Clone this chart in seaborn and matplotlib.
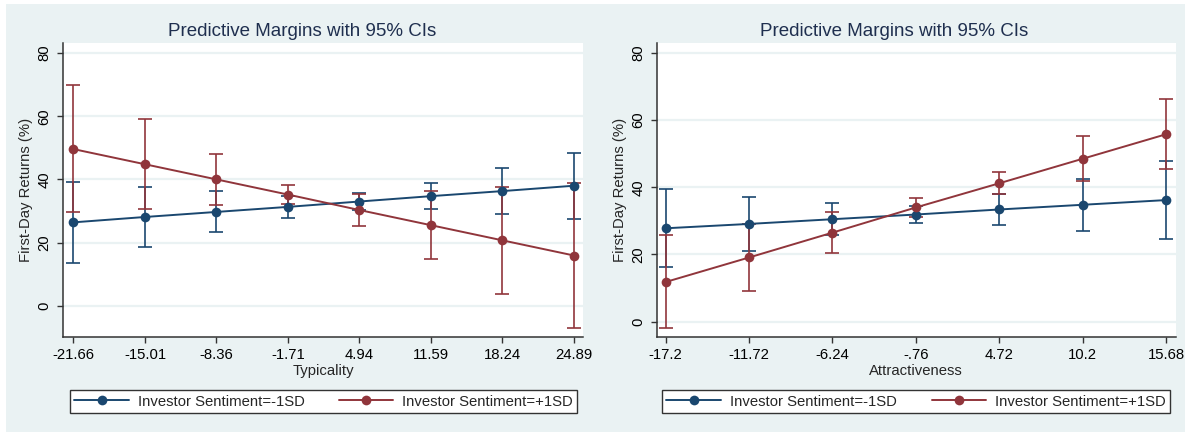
import numpy as np
import pandas as pd
import matplotlib
matplotlib.use("Agg")
import matplotlib.pyplot as plt
import seaborn as sns
from matplotlib.patches import Rectangle

# ---- data ----
typ_x = [-21.66, -15.01, -8.36, -1.71, 4.94, 11.59, 18.24, 24.89]
typ_ticks = ['-21.66', '-15.01', '-8.36', '-1.71', '4.94', '11.59', '18.24', '24.89']
typ_low_mean = [26.4, 28.1, 29.7, 31.3, 33.0, 34.7, 36.3, 38.0]
typ_low_lo = [13.6, 18.5, 23.2, 27.8, 30.4, 30.5, 29.1, 27.6]
typ_low_hi = [39.2, 37.6, 36.2, 34.8, 35.7, 38.9, 43.6, 48.3]
typ_high_mean = [49.6, 44.8, 40.0, 35.2, 30.3, 25.5, 20.7, 15.9]
typ_high_lo = [29.6, 30.7, 31.9, 32.1, 25.1, 14.7, 3.7, -7.2]
typ_high_hi = [69.8, 59.0, 48.1, 38.3, 35.5, 36.4, 37.7, 39.0]

att_x = [-17.2, -11.72, -6.24, -0.76, 4.72, 10.2, 15.68]
att_ticks = ['-17.2', '-11.72', '-6.24', '-.76', '4.72', '10.2', '15.68']
att_low_mean = [27.8, 29.1, 30.5, 31.9, 33.4, 34.8, 36.2]
att_low_lo = [16.2, 21.1, 25.7, 29.3, 28.8, 26.9, 24.7]
att_low_hi = [39.4, 37.2, 35.3, 34.5, 38.0, 42.6, 47.8]
att_high_mean = [11.8, 19.1, 26.5, 34.0, 41.2, 48.5, 55.8]
att_high_lo = [-1.9, 9.2, 20.4, 31.2, 38.0, 41.9, 45.5]
att_high_hi = [25.7, 29.0, 32.7, 36.8, 44.5, 55.2, 66.3]

groups = ['Investor Sentiment=-1SD', 'Investor Sentiment=+1SD']
y_ticks = [0, 20, 40, 60, 80]

BLUE = '#1a476f'
RED = '#90353b'
BG = '#eaf2f3'

sns.set_style("white")
plt.rcParams['font.family'] = ['Liberation Sans', 'DejaVu Sans']

W, H = 1185, 432
fig = plt.figure(figsize=(W / 100, H / 100), dpi=100)
fig.patches.append(Rectangle((5.7 / W, 0), 1, (H - 4) / H, transform=fig.transFigure,
                             facecolor=BG, edgecolor='none', zorder=-10))


def px_axes(x0, x1, y0, y1):
    return fig.add_axes([x0 / W, (H - y1) / H, (x1 - x0) / W, (y1 - y0) / H])


def panel(ax, xs, ticks, lo_m, lo_l, lo_h, hi_m, hi_l, hi_h, xlabel, xlim, ylim, title_x):
    ax.set_facecolor('white')
    for y in y_ticks:
        ax.axhline(y, color=BG, lw=1.6, zorder=0)

    # confidence intervals
    for m, l, h, c in [(lo_m, lo_l, lo_h, BLUE), (hi_m, hi_l, hi_h, RED)]:
        m = np.array(m)
        err = [m - np.array(l), np.array(h) - m]
        ax.errorbar(xs, m, yerr=err, fmt='none', ecolor=c, elinewidth=1.4,
                    capsize=5, capthick=1.4, alpha=0.85, zorder=2)

    df = pd.DataFrame({
        'x': list(xs) * 2,
        'y': list(lo_m) + list(hi_m),
        'grp': [groups[0]] * len(xs) + [groups[1]] * len(xs),
    })
    sns.lineplot(data=df, x='x', y='y', hue='grp', palette=[BLUE, RED],
                 marker='o', markersize=7, markeredgewidth=0, lw=1.4,
                 ax=ax, zorder=3)

    ax.set_xlim(*xlim)
    ax.set_ylim(*ylim)
    ax.set_xticks(xs)
    ax.set_xticklabels(ticks)
    ax.set_yticks(y_ticks)
    ax.set_yticklabels([str(v) for v in y_ticks])
    ax.tick_params(axis='both', direction='out', length=4, width=1, color='#333333',
                   labelsize=10.7, labelcolor='black', pad=4, left=True, bottom=True)
    ax.tick_params(axis='y', labelrotation=90, pad=4)
    for lab in ax.get_yticklabels():
        lab.set_va('center')
    sns.despine(ax=ax)
    for s in ['left', 'bottom']:
        ax.spines[s].set_color('#333333')
        ax.spines[s].set_linewidth(1.1)
    ax.set_xlabel(xlabel, fontsize=10.7, labelpad=1)
    ax.set_ylabel('First-Day Returns (%)', fontsize=10.7, labelpad=3)

    handles, labels = ax.get_legend_handles_labels()
    ax.get_legend().remove()
    fig.text(title_x / W, 1 - 31 / H, 'Predictive Margins with 95% CIs',
             ha='center', va='center', fontsize=13.5, color='#1f2f4f')
    return handles, labels


axL = px_axes(62.7, 583.3, 43.3, 337.3)
hL, lL = panel(axL, typ_x, typ_ticks, typ_low_mean, typ_low_lo, typ_low_hi,
               typ_high_mean, typ_high_lo, typ_high_hi, 'Typicality',
               (-22.66, 25.76), (-10.0, 83.1), 302)

axR = px_axes(656.5, 1176, 43.3, 337.3)
hR, lR = panel(axR, att_x, att_ticks, att_low_mean, att_low_lo, att_low_hi,
               att_high_mean, att_high_lo, att_high_hi, 'Attractiveness',
               (-17.8, 16.34), (-4.67, 82.9), 894)

for hh, ll, x0, x1 in [(hL, lL, 70, 577), (hR, lR, 662, 1170)]:
    leg = fig.legend(hh, ll, loc='lower left', ncol=2, mode='expand',
                     bbox_to_anchor=(x0 / W, (H - 413) / H, (x1 - x0) / W, 25 / H),
                     bbox_transform=fig.transFigure, frameon=True, fancybox=False,
                     edgecolor='#333333', framealpha=1, fontsize=10.7,
                     handlelength=3.65, handletextpad=0.6, borderpad=0.3,
                     borderaxespad=0)
    leg.get_frame().set_linewidth(1.0)

fig.savefig('out.png', dpi=100)
